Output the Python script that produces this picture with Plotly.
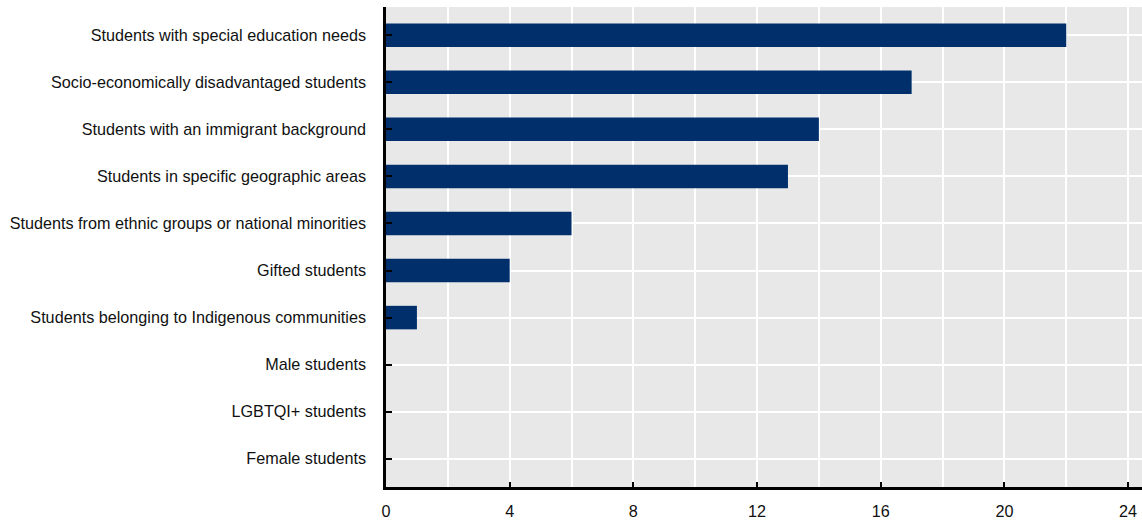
import plotly.graph_objects as go

categories = [
    "Students with special education needs",
    "Socio-economically disadvantaged students",
    "Students with an immigrant background",
    "Students in specific geographic areas",
    "Students from ethnic groups or national minorities",
    "Gifted students",
    "Students belonging to Indigenous communities",
    "Male students",
    "LGBTQI+ students",
    "Female students",
]
values = [22, 17, 14, 13, 6, 4, 1, 0, 0, 0]
x_ticks = [0, 4, 8, 12, 16, 20, 24]

positions = list(range(len(categories)))

fig = go.Figure(go.Bar(
    x=values, y=positions, orientation="h",
    marker=dict(color="#002F6C", line=dict(width=0)),
    width=0.5,
))

fig.update_layout(
    width=1142, height=524,
    margin=dict(l=386, r=0, t=7, b=37, autoexpand=False),
    plot_bgcolor="#E8E8E8", paper_bgcolor="white",
    font=dict(family="Liberation Sans, Arial, sans-serif", size=16.2, color="#111111"),
    showlegend=False,
    bargap=0.5,
)
fig.update_xaxes(
    range=[0, 24.45], tickvals=x_ticks, ticktext=[str(v) for v in x_ticks],
    ticks="inside", ticklen=5, tickwidth=2, tickcolor="black",
    showline=True, linecolor="black", linewidth=2.5,
    showgrid=True, gridcolor="white", gridwidth=1.5,
    minor=dict(dtick=2, tick0=0, showgrid=True, gridcolor="white", gridwidth=1.5),
    zeroline=False, automargin=False,
    ticklabelstandoff=8,
)
fig.update_yaxes(
    range=[9.6, -0.6], tickvals=positions, ticktext=categories,
    ticks="inside", ticklen=6, tickwidth=2, tickcolor="black",
    showline=True, linecolor="black", linewidth=2.5,
    showgrid=True, gridcolor="white", gridwidth=1.5,
    zeroline=False, automargin=False,
    ticklabelstandoff=14,
)

fig.write_html(
    "out.html",
    config={"displayModeBar": False},
    post_script="document.body.style.margin='0';document.body.style.overflow='hidden';",
)
